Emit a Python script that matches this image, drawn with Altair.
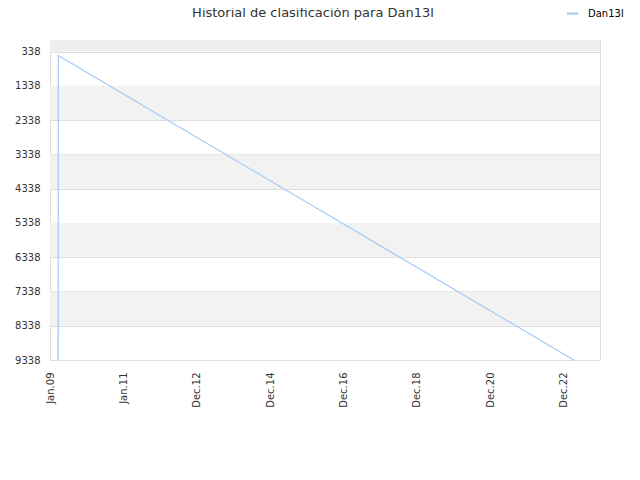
import altair as alt
import pandas as pd

# ---- data ----
series_name = "Dan13l"
dates = ["2009-03-26T00:00:00", "2009-03-27T00:00:00", "2023-03-30T00:00:00"]
ranks = [9338, 455, 9338]

band_lo = [0, 1338, 3338, 5338, 7338]
band_hi = [338, 2338, 4338, 6338, 8338]
band_kind = ["top", "alt", "alt", "alt", "alt"]

y_ticks = [338, 1338, 2338, 3338, 4338, 5338, 6338, 7338, 8338, 9338]
x_tick_dates = [(2009, 1, 5), (2011, 1, 2), (2012, 12, 30), (2014, 12, 28),
                (2016, 12, 25), (2018, 12, 23), (2020, 12, 20), (2022, 12, 18)]
x_domain = [(2009, 1, 4), (2023, 12, 15)]
y_domain = [0, 9338]

title_text = "Historial de clasificación para Dan13l"

FONT = "DejaVu Sans"

line_df = pd.DataFrame({"date": dates, "rank": ranks, "series": [series_name] * len(dates)})
band_df = pd.DataFrame({"lo": band_lo, "hi": band_hi, "kind": band_kind})
title_df = pd.DataFrame({"t": [title_text]})


def dt(t):
    return alt.DateTime(year=t[0], month=t[1], date=t[2])


y_scale = alt.Scale(domain=y_domain, reverse=True, nice=False, zero=False)
x_scale = alt.Scale(domain=[dt(x_domain[0]), dt(x_domain[1])], nice=False)


def y_axis():
    return alt.Axis(values=y_ticks, format="d", title=None, labelFontSize=10, labelFont=FONT,
                    labelColor="#333333", labelPadding=10, tickSize=0, domain=False,
                    grid=True, gridColor="#dddddd", gridWidth=1,
                    labelOverlap=False, labelFlush=False, tickCount=10)


bands = alt.Chart(band_df).mark_rect().encode(
    x=alt.value(0),
    x2=alt.value(550),
    y=alt.Y("lo:Q", scale=y_scale, axis=y_axis()),
    y2="hi:Q",
    fill=alt.Fill("kind:N", scale=alt.Scale(domain=["top", "alt"], range=["#eeeeee", "#f2f2f2"]),
                  legend=None),
)

line = alt.Chart(line_df).mark_line(strokeWidth=1.2, interpolate="linear").encode(
    x=alt.X("date:T", scale=x_scale,
            axis=alt.Axis(values=[dt(t) for t in x_tick_dates], format="%b.%y", title=None,
                          labelAngle=270, labelAlign="right", labelBaseline="middle",
                          labelPadding=12, labelFontSize=10, labelFont=FONT,
                          labelColor="#333333", tickSize=0, domain=False, grid=False,
                          labelFlush=False, labelOverlap=False)),
    y=alt.Y("rank:Q", scale=y_scale, axis=y_axis()),
    color=alt.Color("series:N", scale=alt.Scale(range=["#9fc9f3"]),
                    legend=alt.Legend(title=None, orient="none", legendX=516, legendY=-33,
                                      symbolType="stroke", symbolStrokeWidth=2, symbolSize=120,
                                      labelFont=FONT, labelFontSize=10, labelColor="#000000",
                                      labelOffset=9, padding=0)),
)

title = alt.Chart(title_df).mark_text(
    font=FONT, fontSize=13, color="#333333", align="center", baseline="alphabetic"
).encode(
    x=alt.value(263),
    y=alt.value(-23),
    text="t:N",
)

chart = alt.layer(bands, line, title).properties(
    width=550,
    height=320,
    autosize=alt.AutoSizeParams(type="none"),
    padding={"left": 42, "top": 32, "right": 32, "bottom": 112},
).configure_view(stroke="#dddddd", strokeWidth=1).configure(background="white")

chart.save("out.html", embed_options={"renderer": "svg", "actions": False})
